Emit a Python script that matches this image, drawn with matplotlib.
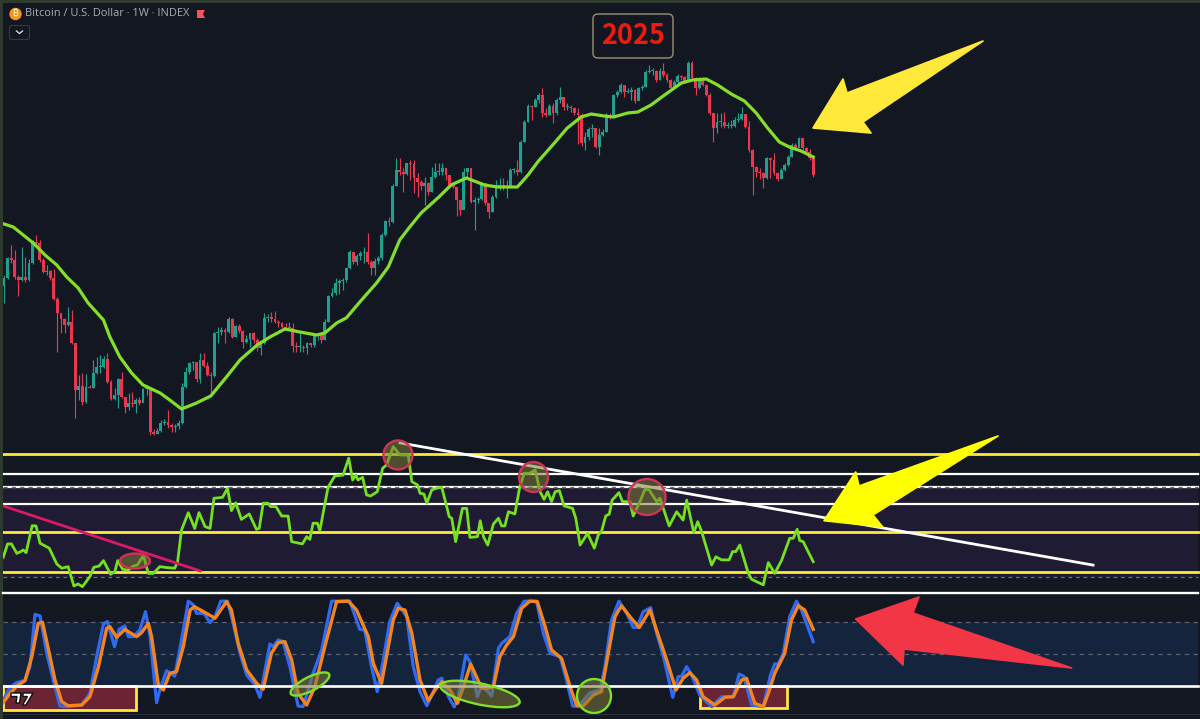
import matplotlib
matplotlib.use("Agg")
import matplotlib.pyplot as plt
from matplotlib.patches import Ellipse, Rectangle, Polygon, FancyBboxPatch, Circle

# Weekly candles: chart level (log-price height over the pane floor)
close = [172,192,190,173,170,173,170,187,208,207,190,178,179,172,151,137,131,125,128,107,
         60,64,48,63,62,77,83,83,91,68,51,55,71,53,43,47,46,50,47,61,
         62,18,16,19,27,28,25,23,24,27,63,78,87,88,71,90,84,75,74,117,
         118,120,118,131,113,124,119,108,111,117,110,102,107,132,133,131,128,127,123,122,
         122,104,103,103,102,107,105,115,115,110,128,154,157,167,169,170,182,198,188,194,
         197,198,188,182,189,192,215,229,228,264,280,278,276,287,286,272,268,264,267,258,
         273,278,278,282,275,265,263,250,240,278,282,248,250,251,267,247,238,253,263,265,
         262,262,280,280,278,308,328,344,343,350,355,337,335,344,337,350,353,343,343,342,
         337,335,307,313,321,322,303,315,318,335,333,355,358,365,358,358,360,349,362,363,
         378,379,379,370,379,375,370,362,368,374,373,368,387,372,362,372,365,355,337,322,
         328,328,324,324,324,330,331,336,323,300,283,278,277,272,292,290,277,271,280,285,
         293,305,302,312,302,298,292,275]
high = [175,193,205,200,175,203,193,191,210,215,210,192,185,180,181,153,137,132,143,140,
        107,75,77,76,65,90,93,95,94,97,70,62,72,78,50,57,58,52,53,62,
        65,63,21,22,30,31,40,27,26,30,67,83,88,89,82,97,97,88,78,118,
        123,123,122,133,132,125,126,120,115,117,118,112,108,137,136,138,139,130,128,127,
        128,127,108,117,105,108,107,117,117,117,131,155,162,172,171,172,182,200,198,196,
        199,203,217,190,192,194,217,230,233,266,292,292,282,287,290,290,277,270,273,268,
        283,287,287,287,282,272,267,263,250,282,282,280,253,253,268,267,247,255,270,272,
        272,270,282,282,290,310,330,346,345,352,357,362,342,346,347,352,363,353,347,345,
        343,342,337,318,323,326,322,322,321,337,337,356,360,367,365,362,363,361,363,365,
        380,385,382,380,382,387,377,371,370,376,375,374,389,389,373,373,373,366,357,337,
        337,337,338,328,330,333,337,343,336,329,301,284,282,278,293,292,297,278,282,287,
        295,307,307,313,312,303,301,293]
low = [147,171,187,171,154,169,168,169,186,205,188,177,175,170,150,98,117,117,124,106,
       32,50,45,47,62,62,76,77,82,67,50,50,42,52,37,40,43,37,45,48,
       55,15,15,17,18,25,22,18,18,21,26,62,76,80,68,67,83,74,55,73,
       107,115,107,117,112,113,117,102,107,103,107,99,95,106,128,128,127,123,122,120,
       120,98,98,98,98,96,103,103,110,107,110,128,153,155,156,160,168,181,186,185,
       190,187,186,175,175,186,190,214,224,227,264,275,258,275,270,257,253,260,245,255,
       258,272,275,275,270,263,262,234,235,257,273,247,220,247,250,245,232,238,252,260,
       260,252,263,277,275,277,308,328,330,343,347,333,333,335,327,335,347,340,340,338,
       335,306,304,300,310,313,302,295,314,318,331,336,353,357,353,357,350,347,350,360,
       363,377,375,368,370,373,368,361,363,367,370,367,370,370,355,361,364,354,335,308,
       317,323,322,322,322,323,328,330,322,298,255,273,271,262,271,272,275,269,272,279,
       284,293,300,303,300,297,290,273]

ma_week = [0,2.6,5.4,8.2,11.5,14.8,17.6,20.8,23.6,27.9,29.7,32.5,35.8,39,43.8,46.5,49.8,54,58,62.4,
           66.2,71,74.6,78.8,83,87.7,90,93.3,96,100.3,104.5,107.8,111,113.8,117,122,125.4,129.7,134.8,138.5,
           144,147,149.7,154.4,158,161.9,164.7,168.4,171,175,177.8,181.5,185.3,190,193.2,197,200.2,204,207.7,211,
           214.2,217.5,220.3,223.6,227]
ma_level = [226,223,215,207,195,185,173,162,147,130,113,93,77,65,57,50,41,47,54,73,
            90,105,113,121,118,115,117,127,132,150,167,183,210,223,237,253,265,272,265,263,
            263,275,288,307,322,333,336,334,333,337,338,345,355,367,370,371,365,356,349,337,
            322,308,303,299,293]

rsi_week = [-0.2,1,2.1,3.6,4.7,5.4,6.2,7.9,9,10.1,11.5,12.7,14.8,16.2,18,19.6,20.8,22,24.1,25.2,
            26.7,27.9,29.9,31.1,31.9,33.3,34.9,36.3,37.4,39.1,40.5,41.9,43.7,45.6,47.9,48.7,49.8,51.7,53.5,54.7,
            56.4,57.8,58.9,61.3,62.7,63.8,65,66.6,68.8,70.8,71.6,72.7,74,74.8,76.3,77.9,79.7,80.7,83.7,84.9,
            85.8,86.7,87.9,88.6,90.9,92.8,95.1,96.7,97.8,98.7,99.3,100.6,101.7,102.8,104.7,106.2,107.3,109.2,111.1,113.4,
            114.4,116,116.7,117.8,118.6,120,121.2,122.8,124.9,125.6,126.7,128.6,129.8,130.7,132.8,133.6,134.5,135.7,137.3,138.7,
            139.6,140.5,141.5,143.3,144.6,145.9,147.4,149,150.4,151.5,152.5,153.6,154.6,155.8,157.1,159.5,160.4,161.6,163.7,165.6,
            166.7,167.6,168.8,169.8,170.6,172.5,173.5,175.6,176.5,178.4,179.8,181,183.1,184,186.6,188.7,190.5,191.5,193.5,194.6,
            195.7,198.5,199.7,201.3,203.4,204.4,205.3,206.4,208.8,209.7,213,214.4,216.2,218.1,220.4,221.4,222.5,223.2,224.2,225.1,227]
rsi_value = [38.8,44.7,44.7,40.5,41.3,42,40.8,52.8,52.7,45,43.8,42.8,35.8,33.9,34.6,26,26.9,25.7,30.2,34.3,
             34.9,37.3,31.2,32.4,37.3,33.4,33.1,34.9,35.3,39.5,31.6,31.6,34.6,34.2,33.9,36.8,50.9,58.6,51.6,58.6,
             52.4,51.6,65,65.4,69.4,59.5,63,55.6,58,51.2,51.6,62.8,62.8,61.3,61.3,57.1,57.1,45.7,44.7,47.9,
             46.7,53.9,53.9,50.6,69.9,74.9,75.3,82.8,73.1,75.3,73.1,74.3,66.5,66,67.9,78.3,79.8,87.9,84.2,84.2,
             72.4,70.9,67.2,66.9,62.8,68.7,69.4,69.9,56.8,56.1,45.7,60.5,60.5,47.6,47.9,55,47.9,44.2,53.6,56.1,
             52.7,52.7,59,58,69.4,76.1,76.1,77.6,67.9,64.5,67.9,63.5,67.9,68.4,61.6,60.5,56.1,44.2,49.4,42.8,
             48.7,50.2,57.1,58,64.2,67.5,63.5,63.5,57.1,63.5,69,68.7,63.5,65,52.7,59,55.3,64.2,49.7,54.6,
             50.2,35.3,39,37.6,37.6,41.3,41.3,44.2,31.6,29,26.5,36.4,31.6,37.3,47.2,47.2,51.2,46.2,45.7,42.8,36.8]

k_week = [-0.4,1.7,3.6,5.9,7.3,8.7,10.1,12,13.8,15.7,17.1,21.8,24.1,26,27.9,29,31,32.3,33.9,34.9,
          36.3,38.1,39.7,41,42.8,43.7,45.6,47.9,49.8,51.7,53.1,54,56.1,57.8,59.2,60.8,62.7,64.3,66.2,68.1,
          70.4,71.8,74.6,75.5,76.9,78.3,80.2,82.5,83.9,86.7,89.1,91.9,97,99.8,101.2,103.1,104.7,106.4,108.2,110.3,
          113,114.8,116.7,118.6,120.5,121.8,122.8,124.7,126.3,127.5,129.5,130.7,132.8,134,136.8,138.7,139.6,141.9,143.8,145.9,
          149.4,151.3,153.2,156,157.8,159.5,161.1,163,164.4,167.2,168.6,170.4,172.5,174.7,176.5,177.6,179.3,181.4,183.1,185,
          187.6,189.1,190.1,191.5,192.9,195.2,198.5,201.3,204.6,206.2,207.5,209.7,213,215,216.2,217.2,218.6,220.4,222.3,223.7,227]
k_value = [5,18.5,23,25,38,87.5,86,50.6,25.4,0.8,0.2,1.7,12.8,47.5,78.4,80.6,56.9,73.3,76.5,66.4,
           66.4,72.7,90,66.4,3.9,15.9,34.2,29.2,63.2,100,96.4,88.5,88.5,79.7,85.3,100,100,79,50.6,30,
           20.7,9,59.5,57,63.2,61.7,38,0.8,0.2,31.7,53.8,100,100,73.3,72.7,38,14.4,44.3,80.6,98,
           85.3,38,14.4,1.1,14.4,25.4,27,9.6,0,9.6,49,42.7,9.6,20.7,10.3,55.4,60,66.4,88.5,100,
           100,69.6,50.6,47.5,25.4,0.8,0.2,8,13.4,16,38,82,100,88.5,75.2,75.2,90,93.8,69.6,47.5,
           9,28.5,29,38,30,11,0.2,9.6,9.6,31,29,1.7,0.2,30,40.5,40.5,50.6,85.3,100,91.6,61.7]

d_week = [-0.4,1.7,3.6,5.9,7.8,9.6,10.8,12.4,14.3,16.2,18,21.8,24.1,26.5,28.8,29.7,31.6,33.9,35.3,37.2,
          38.6,40.5,41.4,43.3,44.7,46.5,48.4,50.3,52.2,53.4,56.8,59.2,62.4,63.8,65.7,68.1,70.9,72.7,75,76.9,
          78.8,80.7,82.5,84.9,87.2,90,93.3,96.6,98.9,102.2,103.6,105.9,107.3,109.2,110.6,112.5,114.4,116.7,119,120.9,
          122.8,125.1,127.2,128.9,130.9,132.1,134,135.9,137.3,139.1,141,142.9,145.2,147.5,149.6,151.8,153.6,156.4,158.8,160.6,
          162.5,165.3,167.6,169.5,171.4,173.2,175.6,178.2,181.2,183.5,185.9,188.5,190.5,192.4,194.3,196.1,199.4,202.2,204.6,206.9,
          208.3,210.6,213,214.4,216.2,219,220.9,222.8,224.6,227]
d_value = [3.3,12.8,19.7,24.8,47.5,79,80,55.4,25.4,4.9,1,1.7,9.6,38,74.3,75.9,65.8,73.3,70.2,66.4,
           70.2,79,66.4,20.7,15.9,31.7,33.3,56.9,91.6,94.8,88.5,83.8,99.5,91.6,60,34.9,22.2,16.6,50.6,60.7,
           61.7,44.3,12.8,1.7,19,57,99.5,100,91.6,66.4,41.2,22.2,47.5,82.2,93.2,91.6,69.6,25.4,5.8,16,
           23.8,16,3.3,19,40.5,31.7,17.5,17.5,19,47.5,58.5,66.4,93.2,100,99.5,75.9,53.8,45.9,19,1.7,
           0.8,11.2,14.4,50.6,85.3,95.7,85.3,75,91.6,68,44.3,15.9,27,32.3,25.4,9.6,1.7,9,9.6,25.4,
           27,3.3,0.2,12.8,31.7,50.6,82.2,95.7,91.6,73.3]

rsi_yellow_levels = [84.7, 50.2, 32.4]
rsi_white_levels = [75.8, 70, 62.5]
title_text = "Bitcoin / U.S. Dollar · 1W · INDEX"
year_text = "2025"

BG = "#131722"
UP = "#1fa08e"
DOWN = "#e8374f"
W, H = 1200, 719
plt.rcParams["font.family"] = ["Open Sans", "DejaVu Sans"]

fig = plt.figure(figsize=(W / 100, H / 100), dpi=100, facecolor=BG)

def pane(top, bottom, ylim, z):
    ax = fig.add_axes([0, 1 - bottom / H, 1, (bottom - top) / H], facecolor="none", zorder=z)
    ax.set_xlim(-1.122, 335.5)
    ax.set_ylim(*ylim)
    ax.axis("off")
    return ax

price = pane(0, 450, (0, 450), 1)
rsi = pane(440, 592, (23.33, 90.89), 2)
sto = pane(592, 719, (-11.5, 108.65), 3)
over = fig.add_axes([0, 0, 1, 1], facecolor="none", zorder=5)
over.set_xlim(0, W)
over.set_ylim(H, 0)
over.axis("off")

# price pane
weeks = list(range(len(close)))
opens = [close[0] - 8] + close[:-1]
colors = [UP if c >= o else DOWN for o, c in zip(opens, close)]
price.vlines(weeks, low, high, colors=colors, lw=0.85, zorder=2)
price.bar(weeks, [max(abs(c - o), 1) for o, c in zip(opens, close)],
          bottom=[min(o, c) for o, c in zip(opens, close)], width=0.8, color=colors, lw=0, zorder=3)
price.plot(ma_week, ma_level, color="#84de2a", lw=2.3, zorder=4, solid_joinstyle="round")

# RSI pane
XMIN, XMAX = 3 / W, 1198 / W
rsi.axhspan(30, 70, xmin=XMIN, xmax=XMAX, color="#1f1b33", lw=0, zorder=0)
for v in rsi_white_levels:
    rsi.axhline(v, xmin=XMIN, xmax=XMAX, color="white", lw=1.6, zorder=2)
rsi.axhline(70, xmin=XMIN, xmax=XMAX, color="#666a76", lw=1.0, ls=(0, (3, 3)), zorder=2.1)
rsi.axhline(30, xmin=XMIN, xmax=XMAX, color="#6a6e78", lw=0.9, ls=(0, (3, 3)), zorder=1)
for v in rsi_yellow_levels:
    rsi.axhline(v, xmin=XMIN, xmax=XMAX, color="#ffe93b", lw=2.0, zorder=2.5)
rsi.plot(rsi_week, rsi_value, color="#74e01e", lw=2.0, zorder=3, solid_joinstyle="round")
rsi.plot([-0.3, 55], [61.6, 32.7], color="#d81b66", lw=2.0, zorder=3.5)
rsi.plot([111.1, 305.5], [89.6, 35.3], color="white", lw=2.0, zorder=3.5)

# Stochastic pane
sto.axhspan(20, 80, xmin=XMIN, xmax=XMAX, color="#14243c", lw=0, zorder=0)
for v in (80, 50):
    sto.axhline(v, xmin=XMIN, xmax=XMAX, color="#5d626e", lw=0.9, ls=(0, (3.5, 3.5)), zorder=1)
for x0, x1, v0, v1 in ((-0.3, 37, -3, 19.7), (195.2, 219.6, -1, 19.7)):
    sto.add_patch(Rectangle((x0, v0), x1 - x0, v1 - v0, fc="#6b2434", ec="#ffe93b", lw=2.0, zorder=1.5))
sto.plot(k_week, k_value, color="#2e6bf2", lw=2.3, zorder=3, solid_joinstyle="round")
sto.plot(d_week, d_value, color="#f5841f", lw=2.4, zorder=3.2, solid_joinstyle="round")
sto.axhline(20, xmin=XMIN, xmax=XMAX, color="white", lw=1.9, zorder=4)

# overlay: frame, panes, annotations
over.add_patch(Rectangle((0, 0), 3, H, fc="#2e3a2c", lw=0))
over.add_patch(Rectangle((0, 0), W, 3, fc="#2e3a2c", lw=0))
over.plot([3, 1198], [592.5, 592.5], color="white", lw=1.7)
over.plot([3, W], [713.5, 713.5], color="#2a2e39", lw=0.8)

def blob(x, y, w, h, angle, edge):
    over.add_patch(Ellipse((x, y), w, h, angle=angle, fc=(0.50, 0.48, 0.22, 0.55), ec=edge, lw=1.7))

RED_RING = "#cf3358"
LIME_RING = "#7fe02a"
blob(398, 455, 29, 29, 0, RED_RING)
blob(533.5, 477, 29, 30, 0, RED_RING)
blob(647, 497, 37, 36, 0, RED_RING)
blob(135, 561, 30, 15, 0, RED_RING)
blob(310, 684, 43, 14, -27, LIME_RING)
blob(480, 694, 81, 21, 12, LIME_RING)
blob(594, 696, 34, 34, 0, LIME_RING)

over.add_patch(Polygon([(983, 41), (847, 93), (843, 79), (813, 128), (871, 133), (863, 122)],
                       closed=True, fc="#ffe93b", ec="#ffe93b", lw=1.2, joinstyle="round"))
over.add_patch(Polygon([(998, 436), (859, 486), (855.7, 472), (824, 520.7), (882.7, 527), (873, 515)],
                       closed=True, fc="#ffff00", ec="#ffff00", lw=1.2, joinstyle="round"))
over.add_patch(Polygon([(1071.7, 668), (913, 613), (919, 597), (855.7, 619), (903, 665), (904, 649)],
                       closed=True, fc="#f23645", ec="#f23645", lw=1.2, joinstyle="round"))

# year tag
over.add_patch(FancyBboxPatch((597, 18), 72, 36, boxstyle="round,pad=4,rounding_size=5",
                              fc=BG, ec="#8f856a", lw=1.1))
over.text(633, 36.5, year_text, color="#f21a0c", fontsize=19.5, fontweight="bold",
          family=["Noto Sans CJK SC", "DejaVu Sans"], ha="center", va="center")

# header
over.add_patch(Circle((15.5, 14), 6.2, fc="#f7931a", lw=0))
over.text(15.5, 14, "₿", color="white", fontsize=6.5, family=["Inter", "Noto Sans", "Roboto", "Lato", "Open Sans"],
          ha="center", va="center")
over.text(25, 14, title_text, color="#a9adb8", fontsize=7.95, family=["Open Sans", "DejaVu Sans"],
          ha="left", va="center")
over.add_patch(Polygon([(197, 10), (205, 10), (203, 14), (205, 18), (197, 18)], closed=True, fc="#f7525f", lw=0))
over.add_patch(FancyBboxPatch((11, 27), 17, 11, boxstyle="round,pad=1.5,rounding_size=2",
                              fc=BG, ec="#363a45", lw=0.8))
over.plot([16.5, 19.5, 22.5], [31, 33.5, 31], color="#d1d4dc", lw=1.0)

# logo mark
for pts, in (([(11, 693), (21, 693), (19.5, 703), (16, 703), (17, 696.5), (11, 696.5)],),
             ([(23, 693), (33, 693), (26, 705), (22.5, 705), (27.5, 696.5), (23, 696.5)],)):
    over.add_patch(Polygon(pts, closed=True, fc="white", ec="#111111", lw=1.0))

fig.savefig("out.png", dpi=100, facecolor=BG)
